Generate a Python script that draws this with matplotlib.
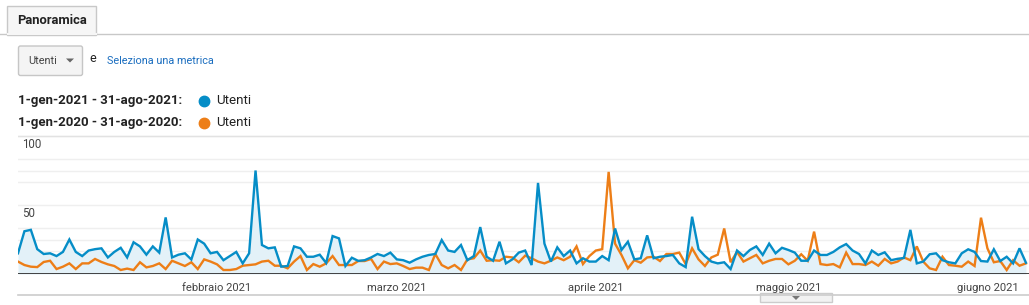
import matplotlib
matplotlib.use("Agg")
import matplotlib.pyplot as plt
from matplotlib.patches import FancyBboxPatch, Rectangle, Polygon
import numpy as np

plt.rcParams['font.family'] = ['Roboto', 'DejaVu Sans']

# utenti giornalieri dal 1-gen (solo la parte visibile del grafico)
utenti_2021 = [
    15, 31, 32, 18, 14.5, 15, 13, 16, 25, 16, 13, 17, 18, 18.6, 12, 16,
    19, 12, 23, 20, 14, 20, 15.5, 41, 12, 14, 15, 10.5, 25, 22, 15, 16,
    10, 13, 16, 7.7, 15, 75, 21, 18.6, 19.3, 5.3, 5.8, 20, 18.6, 12.5, 12.5, 14,
    8, 27.5, 25.8, 5.8, 11.8, 9.5, 10, 12, 14.5, 13, 15.5, 10.6, 10, 8.2,
    10.6, 12.5, 13.8, 14.5, 24.6, 17, 16, 21, 10, 13, 34, 12.5, 9.6, 23.4,
    7.7, 10.6, 15.5, 17, 6.5, 66, 22, 9, 19.3, 13, 17, 7.7, 11.4, 9,
    9, 13, 10, 33, 17.4, 23.4, 10.6, 11.4, 28, 11.4, 12.5, 13, 13.8, 7.7,
    5, 41.5, 18, 13, 9, 7.7, 8.5, 3.6, 17, 13, 17.4, 20, 13.8, 22,
    15, 19, 17.4, 15.5, 9.6, 9.6, 17, 13.8, 13.8, 16, 19.3, 21.7, 17, 14.5,
    7.7, 17, 13.8, 15.7, 10, 11, 11.6, 32, 7.7, 9, 14.3, 15, 10, 8.5,
    7.7, 15, 17.9, 16, 9.4, 9, 17.9, 9.4, 12.5, 7.7, 18.6, 8.2,
]
utenti_2020 = [
    9, 6.5, 5.3, 5, 8.7, 9.6, 3.6, 5.3, 7.7, 3.6, 7.7, 7.7, 10.9, 8.7, 7, 5.8,
    2.9, 3.9, 2.9, 8.5, 4.8, 5.8, 7.7, 3.6, 9.6, 7.7, 5.8, 8.5, 3.6, 10.6, 9, 7,
    2.9, 2.9, 3.6, 6, 6.5, 7, 9, 9.6, 6, 6, 4.1, 9, 13, 2.9, 7.2, 5.3,
    7.7, 13, 6.5, 6.5, 6.5, 9.4, 9.4, 10.9, 3.6, 9, 7.2, 7.7, 5.8, 3.6,
    4.6, 4.6, 2.9, 14.5, 6.5, 4.1, 6.5, 2.9, 10.6, 11.4, 17, 9.6, 10, 9.6,
    12.5, 12, 8.5, 13.3, 11.4, 9, 7.7, 9.6, 12, 10, 12.5, 20, 7.2, 13,
    17, 18, 74, 22, 13.8, 4.1, 10, 8.2, 12, 12.5, 9.4, 14.5, 14.5, 15.5,
    7.2, 18.6, 10.6, 5.8, 12, 14, 33, 8.5, 16, 9, 11.4, 13.8, 7.7, 9.6, 10.9,
    10.9, 7, 9.6, 14.3, 9.6, 30.7, 7.2, 6.5, 7.2, 4.8, 15.5, 7.2, 7.2, 6.5,
    9, 6, 10.9, 7.7, 9, 12, 10, 20, 9, 4.1, 2.9, 12.5, 6.5, 6,
    5.3, 9, 5.8, 40.8, 18.6, 8.5, 9.4, 2.9, 10, 6, 7.7,
]
mesi = ["febbraio 2021", "marzo 2021", "aprile 2021", "maggio 2021", "giugno 2021"]
giorno_mese = [31, 59, 90, 120, 151]
etichette_y = [50, 100]

W, H = 1029, 305
fig = plt.figure(figsize=(W / 100, H / 100), dpi=100)

# livello "pixel" per tab, menu e legenda
bg = fig.add_axes([0, 0, 1, 1])
bg.set_xlim(0, W)
bg.set_ylim(H, 0)
bg.axis('off')

testo = '#222222'
bordo = '#c8c8c8'

# scheda Panoramica
bg.plot([0, 7], [34, 34], color=bordo, lw=1)
bg.plot([96, W], [34, 34], color=bordo, lw=1)
bg.add_patch(Rectangle((7, 6), 89, 28.5, facecolor='#f6f6f6', edgecolor=bordo, lw=1))
bg.plot([7.5, 95.5], [34, 34], color='#f6f6f6', lw=1.5)
bg.text(17, 20.5, "Panoramica", fontsize=9.4, fontweight='bold', color=testo, va='center')

# menu a tendina
bg.add_patch(FancyBboxPatch((18.5, 46), 64, 29.5, boxstyle="round,pad=0,rounding_size=2",
                            facecolor='#f4f4f4', edgecolor='#c6c6c6', lw=1))
bg.text(28, 60.5, "Utenti", fontsize=7.8, color='#444444', va='center')
bg.add_patch(Polygon([[66, 58.5], [74, 58.5], [70, 62.5]], closed=True, facecolor='#666666', edgecolor='none'))
bg.text(89, 58, "e", fontsize=9, color=testo, va='center')
bg.text(107, 60.5, "Seleziona una metrica", fontsize=7.8, color='#1a6dbf', va='center')

# legenda
blu = '#058dc7'
arancio = '#ed7e17'
bg.text(18, 100.5, "1-gen-2021 - 31-ago-2021:", fontsize=9.5, fontweight='bold', color=testo, va='center')
bg.text(18, 122.5, "1-gen-2020 - 31-ago-2020:", fontsize=9.5, fontweight='bold', color=testo, va='center')
bg.plot(203.5, 100.5, 'o', ms=7.5, color=blu)
bg.plot(203.5, 122.5, 'o', ms=7.5, color=arancio)
bg.text(216, 100.5, "Utenti", fontsize=9.6, color=testo, va='center')
bg.text(216, 122.5, "Utenti", fontsize=9.6, color=testo, va='center')

# linea in basso e pulsante di scorrimento
bg.plot([18, W], [295, 295], color='#cccccc', lw=1.2)
bg.add_patch(Rectangle((760, 293), 72, 9, facecolor='#f2f2f2', edgecolor='#cccccc', lw=1))
bg.add_patch(Polygon([[792, 296], [800, 296], [796, 300]], closed=True, facecolor='#777777', edgecolor='none'))

# grafico
px_giorno = 6.42
x0, y0, y_top = 18, 274, 135
ax = fig.add_axes([x0 / W, (H - y0) / H, (W - x0) / W, (y0 - y_top) / H])
giorni = np.arange(len(utenti_2021))
ax.set_xlim(0, (W - x0) / px_giorno)
ax.set_ylim(0, 100 * (y0 - y_top) / 138)
ax.axis('off')

for v in [25, 50, 75, 100, 100 / 6, 200 / 6, 400 / 6, 500 / 6]:
    ax.axhline(v, color='#efefef', lw=1, zorder=0)
ax.axhline(100, color='#e2e2e2', lw=1, zorder=0)

ax.fill_between(giorni, 0, utenti_2021, color='#e3f1f8', lw=0, zorder=1)
ax.plot(giorni, utenti_2020, color=arancio, lw=1.7, zorder=3, solid_joinstyle='miter')
ax.plot(giorni, utenti_2021, color=blu, lw=1.7, zorder=4, solid_joinstyle='miter')
ax.axhline(0, color='#333333', lw=1.3, zorder=5)

for v in etichette_y:
    ax.text(4 / px_giorno, v - 6, str(v), fontsize=8.3, color='#444444', va='center', zorder=6)

for g, m in zip(giorno_mese, mesi):
    ax.annotate(m, (g, 0), xytext=(0, -10), textcoords='offset points',
                ha='center', va='center', fontsize=8.1, color='#444444', annotation_clip=False)

fig.savefig("out.png", dpi=100)
